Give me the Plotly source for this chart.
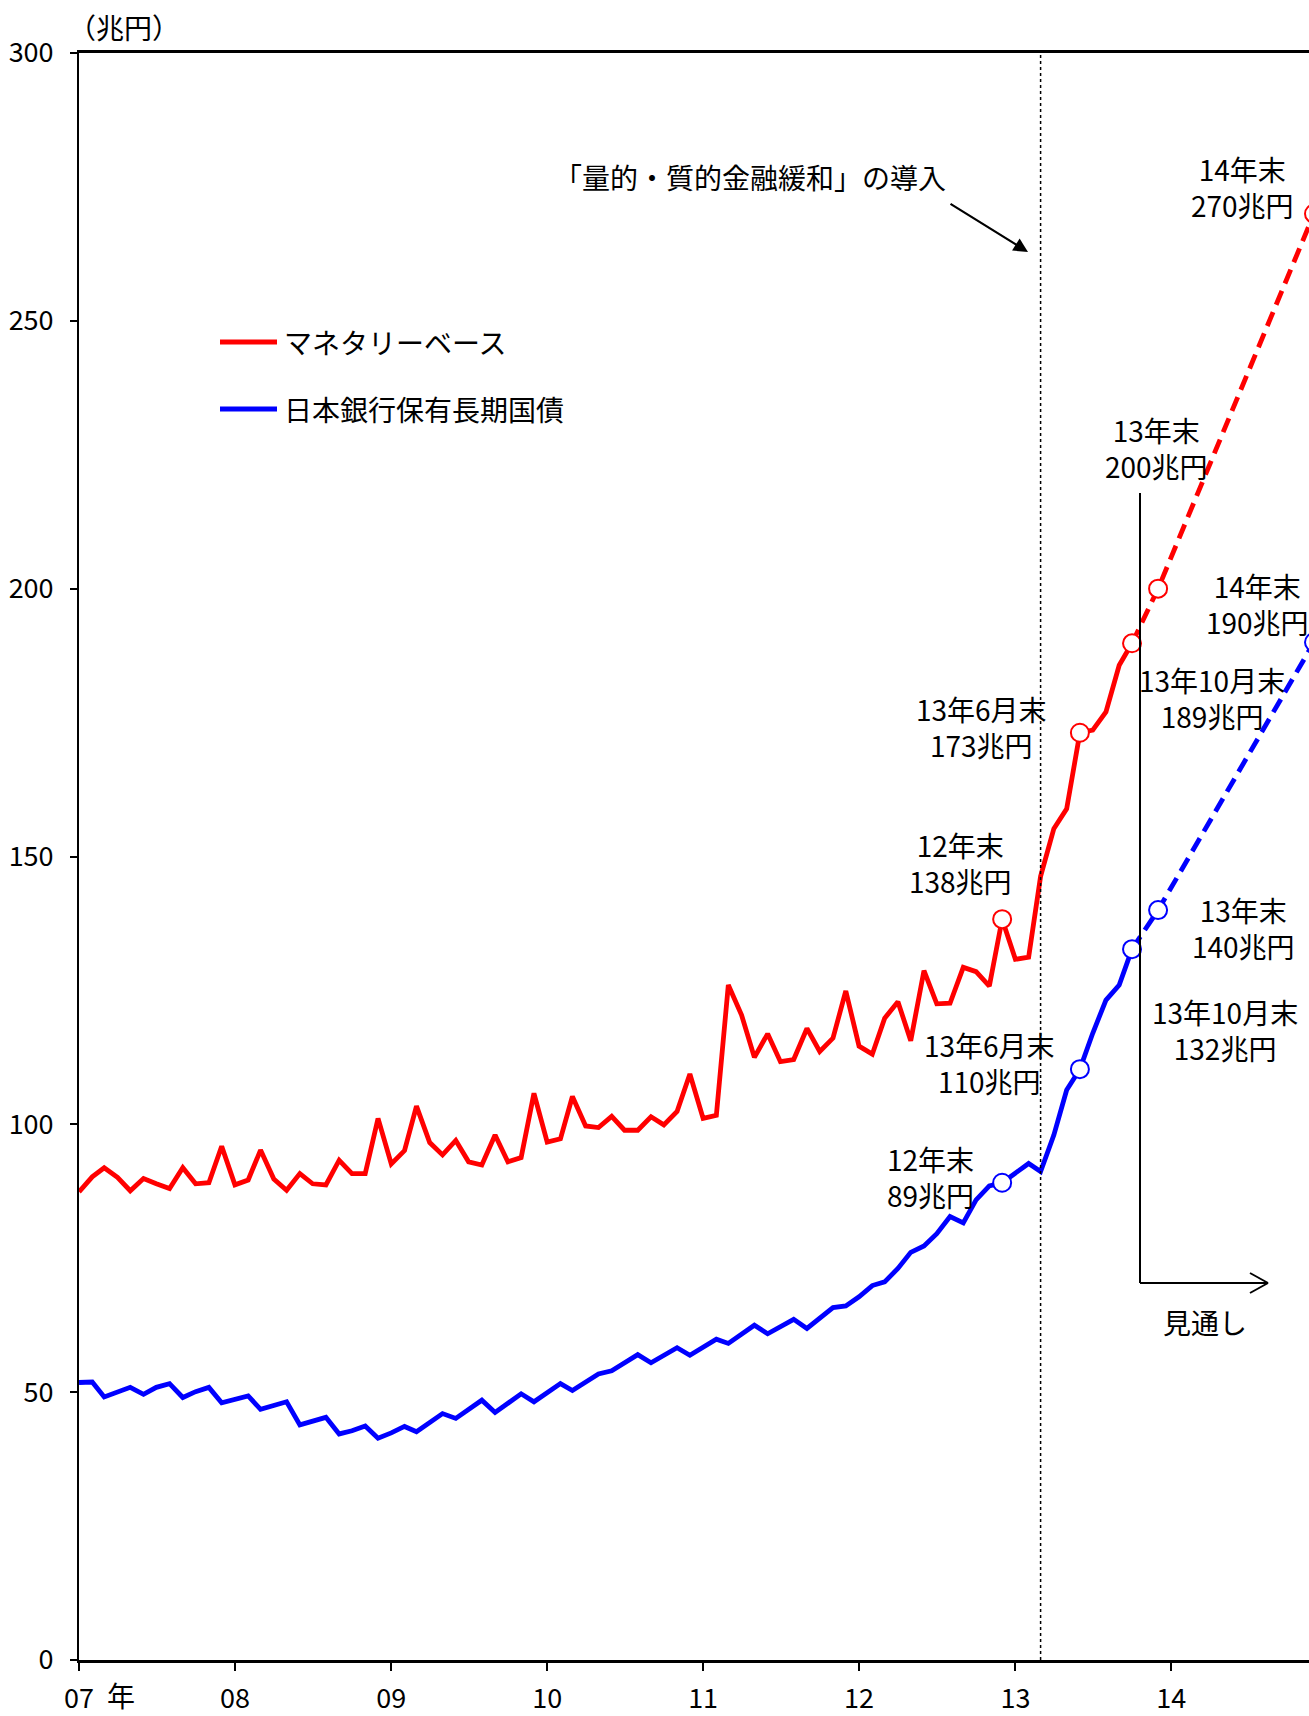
import pandas as pd
import plotly.graph_objects as go

# ---------------- data ----------------
start_month = "2007-01-01"
monetary_base = [
    87.4, 90.2, 91.9, 90.1, 87.6, 89.9, 88.9, 88.0, 91.9, 88.9, 89.1, 95.9,
    88.7, 89.6, 95.2, 89.8, 87.7, 90.8, 88.9, 88.7, 93.3, 90.8, 90.8, 101.1,
    92.6, 95.1, 103.4, 96.6, 94.3, 97.0, 93.0, 92.4, 98.0, 93.0, 93.8, 105.8,
    96.7, 97.3, 105.2, 99.7, 99.4, 101.5, 98.9, 98.9, 101.4, 99.9, 102.4, 109.4,
    101.1, 101.7, 126.0, 120.4, 112.5, 116.9, 111.7, 112.1, 117.9, 113.6, 116.1, 124.9,
    114.6, 113.1, 119.8, 122.9, 115.6, 128.7, 122.5, 122.6, 129.3, 128.5, 125.8, 138.3,
    130.8, 131.2, 146.3, 155.2, 158.9, 173.1, 173.6, 177.0, 185.7, 189.8,
]
boj_jgb = [
    51.8, 51.9, 49.1, 49.9, 50.9, 49.6, 50.9, 51.6, 49.0, 50.1, 50.9, 48.0,
    48.6, 49.3, 46.8, 47.6, 48.2, 43.9, 44.5, 45.3, 42.2, 42.8, 43.7, 41.4,
    42.4, 43.6, 42.6, 44.3, 46.0, 45.1, 46.8, 48.5, 46.2, 48.0, 49.7, 48.2,
    49.8, 51.6, 50.3, 51.8, 53.4, 54.0, 55.5, 57.0, 55.5, 57.0, 58.3, 56.9,
    58.5, 59.9, 59.1, 60.9, 62.5, 60.9, 62.2, 63.6, 61.9, 63.9, 65.8, 66.1,
    67.8, 69.9, 70.6, 73.1, 76.1, 77.3, 79.6, 82.8, 81.6, 85.9, 88.5, 89.1,
    91.0, 92.7, 91.2, 98.0, 106.4, 110.3, 117.0, 123.2, 126.0, 132.7,
]
outlook_dates = ["2013-10-01", "2013-12-01", "2014-12-01"]
outlook_mb = [189.8, 200.0, 270.0]
outlook_jgb = [132.7, 140.0, 190.0]
marked_dates = ["2012-12-01", "2013-06-01"]
marked_mb = [138.3, 173.1]
marked_jgb = [89.1, 110.3]
qqe_date = "2013-03-01"

tick_dates = ["2007-01-01", "2008-01-01", "2009-01-01", "2010-01-01",
              "2011-01-01", "2012-01-01", "2013-01-01", "2014-01-01"]
tick_labels = ["07", "08", "09", "10", "11", "12", "13", "14"]
y_ticks = [0, 50, 100, 150, 200, 250, 300]

months = pd.date_range(start_month, periods=len(monetary_base), freq="MS")

RED = "#FF0000"
BLUE = "#0000FF"
FONT = "Noto Sans CJK JP"

# the plot area runs slightly past the 1309 px window, as in the original (cut at right)
W, H = 1314, 1716
L, T, B = 79, 53, 1660
PW, PH = W - L, B - T


def px(x, y):
    return dict(x=(x - L) / PW, y=(B - y) / PH, xref="paper", yref="paper")


def pline(x0, y0, x1, y1, color="black", width=2):
    return dict(type="line", xref="paper", yref="paper",
                x0=(x0 - L) / PW, x1=(x1 - L) / PW,
                y0=(B - y0) / PH, y1=(B - y1) / PH,
                line=dict(color=color, width=width))


fig = go.Figure()

LW = 4.8
# solid actual lines
fig.add_trace(go.Scatter(x=months, y=monetary_base, mode="lines",
                         line=dict(color=RED, width=LW), showlegend=False,
                         name="マネタリーベース"))
fig.add_trace(go.Scatter(x=months, y=boj_jgb, mode="lines",
                         line=dict(color=BLUE, width=LW), showlegend=False,
                         name="日本銀行保有長期国債"))
# dashed outlook lines
fig.add_trace(go.Scatter(x=outlook_dates, y=outlook_mb, mode="lines",
                         line=dict(color=RED, width=LW, dash="15px,8px"),
                         showlegend=False))
fig.add_trace(go.Scatter(x=outlook_dates, y=outlook_jgb, mode="lines",
                         line=dict(color=BLUE, width=LW, dash="15px,8px"),
                         showlegend=False))
# open circle markers
fig.add_trace(go.Scatter(x=marked_dates + outlook_dates, y=marked_mb + outlook_mb,
                         mode="markers", cliponaxis=False, showlegend=False,
                         marker=dict(symbol="circle", size=18, color="white",
                                     line=dict(color=RED, width=2))))
fig.add_trace(go.Scatter(x=marked_dates + outlook_dates, y=marked_jgb + outlook_jgb,
                         mode="markers", cliponaxis=False, showlegend=False,
                         marker=dict(symbol="circle", size=18, color="white",
                                     line=dict(color=BLUE, width=2))))

shapes = [
    # QQE dotted vertical line
    dict(type="line", xref="x", yref="y", x0=qqe_date, x1=qqe_date, y0=0, y1=300,
         line=dict(color="black", width=1.5, dash="dot")),
    # outlook bracket
    pline(1140, 493, 1140, 1283),
    pline(1140, 1283, 1268, 1283),
    pline(1268, 1283, 1250, 1273),
    pline(1268, 1283, 1250, 1293),
    # manual legend lines
    pline(220, 342, 277, 342, RED, 5),
    pline(220, 409, 277, 409, BLUE, 5),
]

ann_font = dict(family=FONT, size=28, color="black")
labels = [
    ("（兆円）", 124, 27),
    ("「量的・質的金融緩和」の導入", 750, 177),
    ("14年末<br>270兆円", 1242, 187),
    ("13年末<br>200兆円", 1156, 448),
    ("14年末<br>190兆円", 1257, 604),
    ("13年10月末<br>189兆円", 1212, 698),
    ("13年6月末<br>173兆円", 981, 727),
    ("12年末<br>138兆円", 960, 863),
    ("13年末<br>140兆円", 1243, 928),
    ("13年10月末<br>132兆円", 1225, 1030),
    ("13年6月末<br>110兆円", 990, 1063),
    ("12年末<br>89兆円", 930, 1177),
    ("見通し", 1205, 1322),
    ("年", 121, 1695),
]
annotations = []
for text, x, y in labels:
    annotations.append(dict(text=text, showarrow=False, font=ann_font,
                            xanchor="center", yanchor="middle", **px(x, y)))
# legend texts
annotations.append(dict(text="マネタリーベース", showarrow=False, font=ann_font,
                        xanchor="left", yanchor="middle", **px(282, 342)))
annotations.append(dict(text="日本銀行保有長期国債", showarrow=False, font=ann_font,
                        xanchor="left", yanchor="middle", **px(282, 409)))
# QQE arrow
annotations.append(dict(text="", showarrow=True, arrowhead=2, arrowsize=1.3,
                        arrowwidth=2.2, arrowcolor="black",
                        ax=949 - 1028, ay=203 - 252, axref="pixel", ayref="pixel",
                        **px(1028, 252)))

fig.update_layout(
    width=W, height=H,
    margin=dict(l=L, r=0, t=T, b=H - B, pad=0),
    paper_bgcolor="white", plot_bgcolor="white",
    font=dict(family=FONT, size=27, color="black"),
    shapes=shapes, annotations=annotations,
    showlegend=False,
)
fig.update_xaxes(
    type="date", range=["2007-01-01", "2014-12-01"],
    tickmode="array", tickvals=tick_dates, ticktext=tick_labels,
    ticks="outside", ticklen=8, tickwidth=2, tickcolor="black",
    showline=True, linecolor="black", linewidth=2.5, mirror=True,
    showgrid=False, zeroline=False, automargin=False,
    tickfont=dict(family=FONT, size=27, color="black"),
    ticklabelstandoff=5,
)
fig.update_yaxes(
    range=[0, 300], tickmode="array", tickvals=y_ticks,
    ticks="outside", ticklen=7, tickwidth=2, tickcolor="black",
    showline=True, linecolor="black", linewidth=2,
    showgrid=False, zeroline=False, automargin=False,
    tickfont=dict(family=FONT, size=27, color="black"),
    ticklabelstandoff=11,
)

fig.write_html("out.html", config={"displayModeBar": False},
               post_script="document.body.style.margin='0';document.body.style.overflow='hidden';")
